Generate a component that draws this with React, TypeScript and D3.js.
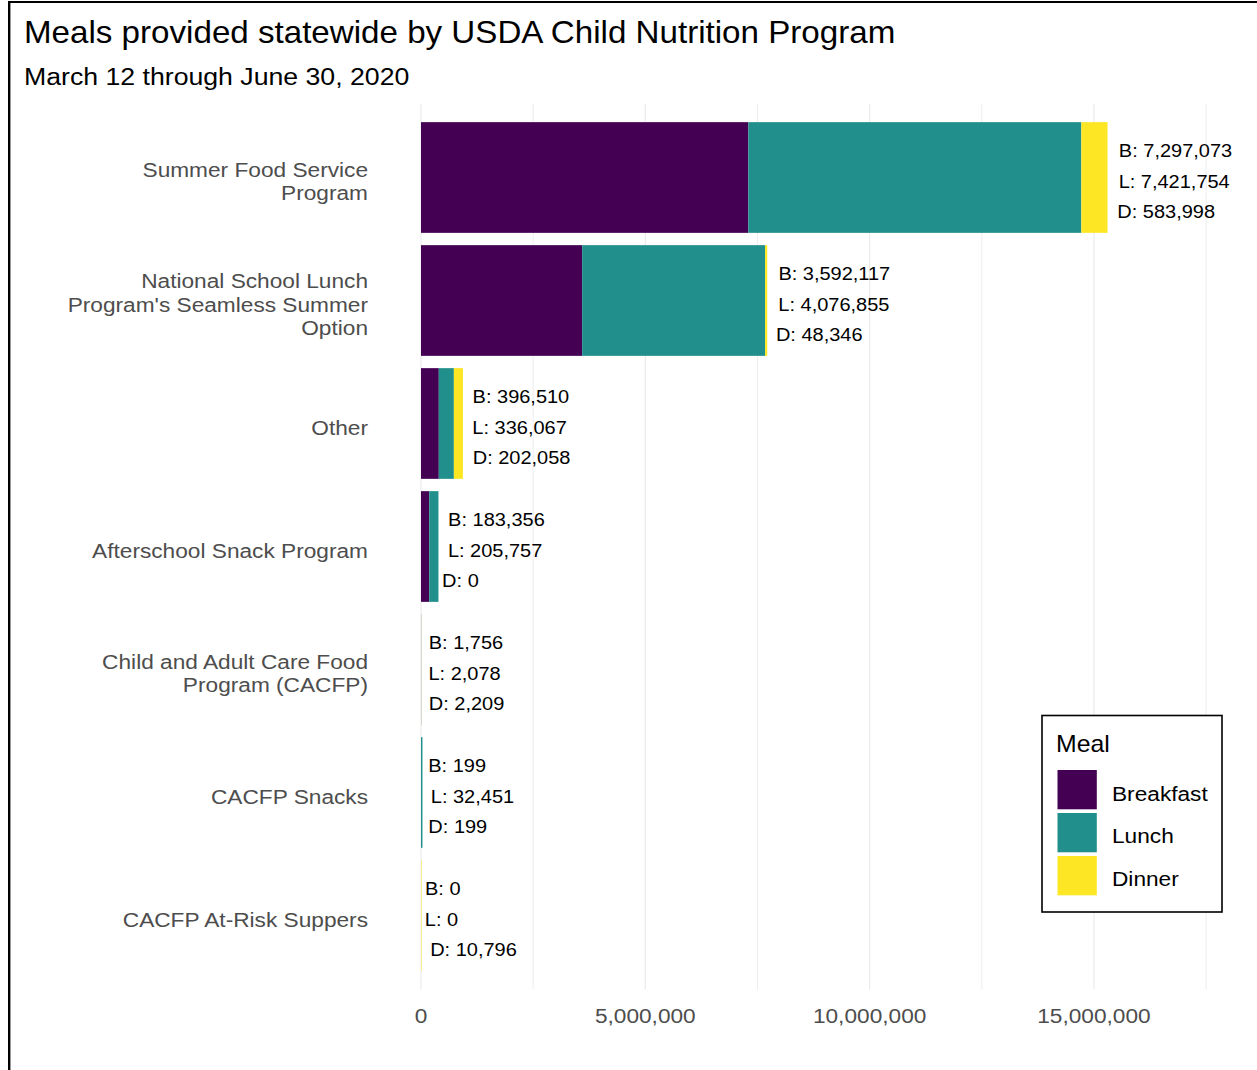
import React from "react";
import * as d3 from "d3";

const categories = [
  "Summer Food Service\nProgram",
  "National School Lunch\nProgram's Seamless Summer\nOption",
  "Other",
  "Afterschool Snack Program",
  "Child and Adult Care Food\nProgram (CACFP)",
  "CACFP Snacks",
  "CACFP At-Risk Suppers",
];
const breakfast = [7297073, 3592117, 396510, 183356, 1756, 199, 0];
const lunch = [7421754, 4076855, 336067, 205757, 2078, 32451, 0];
const dinner = [583998, 48346, 202058, 0, 2209, 199, 10796];
const meals = ["Breakfast", "Lunch", "Dinner"];
const mealAbbr = ["B", "L", "D"];
const mealColors = ["#440154", "#21908C", "#FDE725"];
const xTicks = [0, 5000000, 10000000, 15000000];
const xGrid = [0, 2500000, 5000000, 7500000, 10000000, 12500000, 15000000, 17500000];

const W = 1257;
const H = 1070;
const SX = 1.08;
const FONT = "'Liberation Sans', Arial, sans-serif";

let _ctx: CanvasRenderingContext2D | null = null;
function measure(text: string, fs: number): number {
  if (!_ctx) {
    const c = document.createElement("canvas");
    _ctx = c.getContext("2d");
  }
  if (_ctx) {
    _ctx.font = `${fs}px 'Liberation Sans', Arial, sans-serif`;
    const w = _ctx.measureText(text).width;
    if (w > 0) return w * SX;
  }
  return text.length * fs * 0.55 * SX;
}

function T(props: any) {
  const { x, y, anchor = "start", fs, fill = "#000", children } = props;
  return (
    <text
      transform={`translate(${x},${y}) scale(${SX},1)`}
      textAnchor={anchor}
      fontSize={fs}
      fill={fill}
      fontFamily={FONT}
    >
      {children}
    </text>
  );
}

export default function App() {
  const x = d3.scaleLinear().domain([0, 17500000]).range([421, 1206.1]);
  const y = d3
    .scaleBand<string>()
    .domain(categories)
    .range([116, 977])
    .paddingInner(0.1)
    .paddingOuter(0.05);

  const rows = categories.map((c, i) => ({
    cat: c,
    Breakfast: breakfast[i],
    Lunch: lunch[i],
    Dinner: dinner[i],
  }));
  const stack = d3.stack<any>().keys(meals)(rows);
  const fmt = d3.format(",");
  const panelTop = 103.7;
  const panelBottom = 989.3;

  return (
    <svg
      width={W}
      height={H}
      style={{ position: "absolute", left: 0, top: 0, background: "#fff" }}
    >
      <rect x={0} y={0} width={W} height={H} fill="#fff" />
      {/* grid */}
      {xGrid.map((g) => (
        <line
          key={g}
          x1={x(g)}
          x2={x(g)}
          y1={panelTop}
          y2={panelBottom}
          stroke="#ebebeb"
          strokeWidth={g % 5000000 === 0 ? 1.2 : 0.9}
        />
      ))}
      {/* bars */}
      {stack.map((s, k) => (
        <g key={meals[k]} fill={mealColors[k]}>
          {s.map((d, i) => (
            <rect
              key={i}
              x={x(d[0])}
              width={Math.max(0, x(d[1]) - x(d[0]))}
              y={y(categories[i])!}
              height={y.bandwidth()}
            />
          ))}
        </g>
      ))}
      {/* data labels */}
      {categories.map((c, i) => {
        const total = breakfast[i] + lunch[i] + dinner[i];
        const xe = x(total);
        const cy = y(c)! + y.bandwidth() / 2;
        const vals = [breakfast[i], lunch[i], dinner[i]];
        return (
          <g key={c}>
            {vals.map((v, k) => {
              const label = `${mealAbbr[k]}: ${fmt(v)}`;
              const w = measure(label, 18.5);
              return (
                <T key={k} x={xe + 0.1 * w} y={cy + 10 + (k - 1) * 30.3} fs={18.5} fill="#000">
                  {label}
                </T>
              );
            })}
          </g>
        );
      })}
      {/* category labels */}
      {categories.map((c) => {
        const lines = c.split("\n");
        const cy = y(c)! + y.bandwidth() / 2;
        const base = cy + 11 - ((lines.length - 1) * 23.4) / 2;
        return (
          <g key={c}>
            {lines.map((l, j) => (
              <T key={j} x={368} y={base + j * 23.4} anchor="end" fs={21} fill="#4d4d4d">
                {l}
              </T>
            ))}
          </g>
        );
      })}
      {/* x ticks */}
      {xTicks.map((t) => (
        <T key={t} x={x(t)} y={1022.7} anchor="middle" fs={21} fill="#4d4d4d">
          {fmt(t)}
        </T>
      ))}
      {/* titles */}
      <T x={24} y={42.7} fs={30.7} fill="#000">
        Meals provided statewide by USDA Child Nutrition Program
      </T>
      <T x={24} y={85} fs={24.7} fill="#000">
        March 12 through June 30, 2020
      </T>
      {/* legend */}
      <rect x={1042} y={715.5} width={180} height={196.5} fill="#fff" stroke="#000" strokeWidth={1.6} />
      <T x={1056} y={752.3} fs={23} fill="#000">
        Meal
      </T>
      {meals.map((m, k) => (
        <g key={m}>
          <rect x={1057.5} y={770 + k * 43} width={39.3} height={39.3} fill={mealColors[k]} />
          <T x={1112} y={800.7 + k * 42.5} fs={21} fill="#000">
            {m}
          </T>
        </g>
      ))}
      {/* outer frame */}
      <line x1={8} x2={W} y1={2} y2={2} stroke="#000" strokeWidth={2.2} />
      <line x1={9.2} x2={9.2} y1={1} y2={H} stroke="#000" strokeWidth={2.4} />
    </svg>
  );
}
